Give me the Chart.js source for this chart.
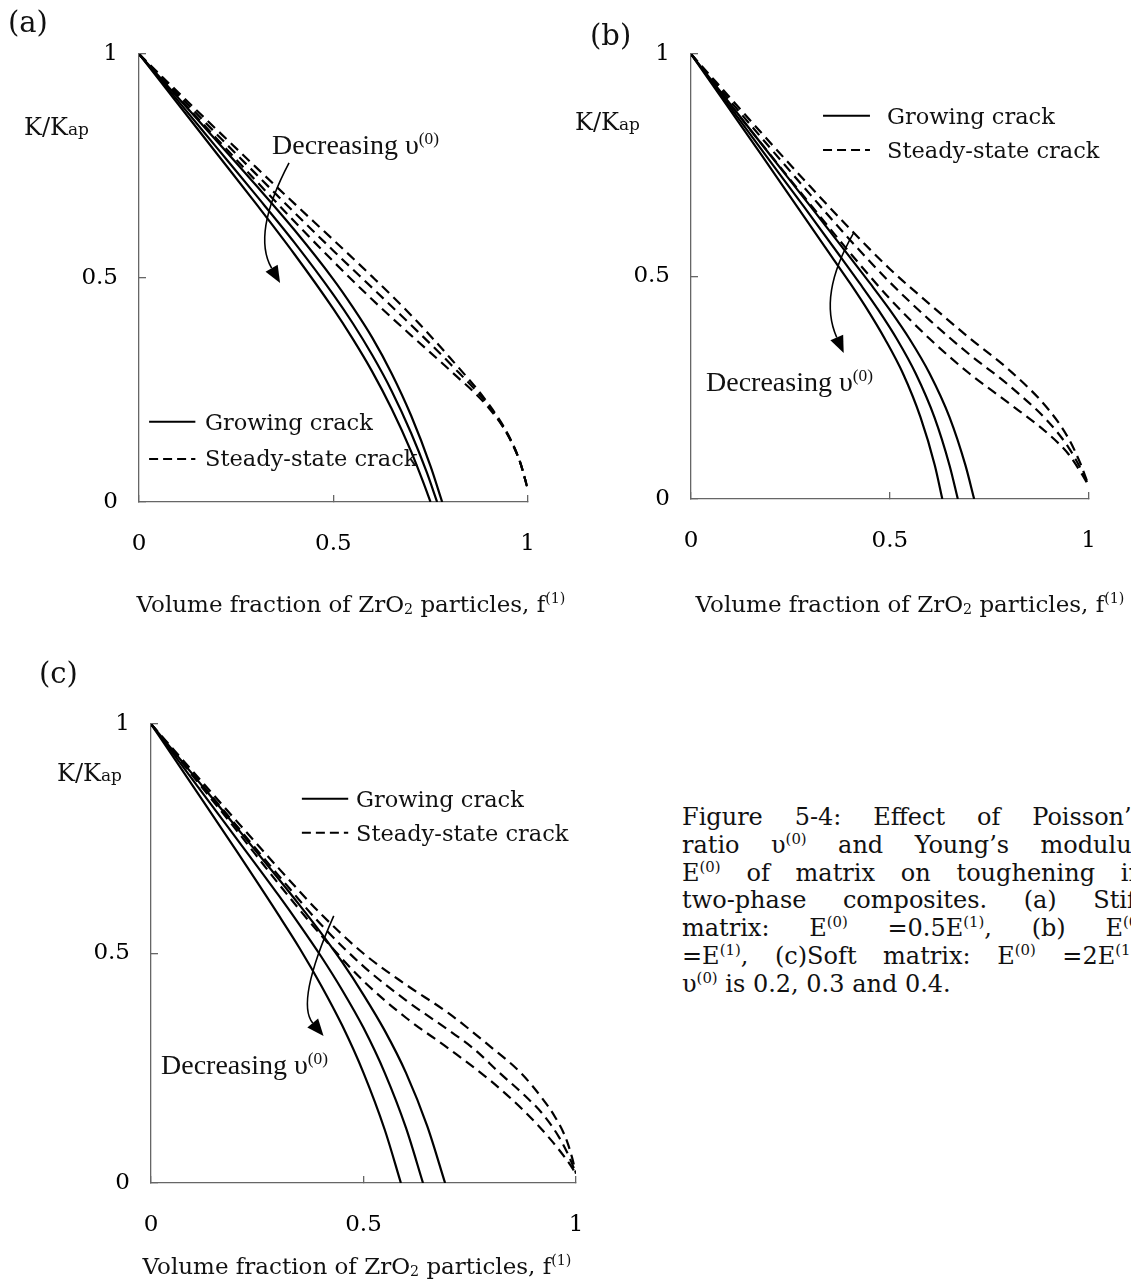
<!DOCTYPE html>
<html>
<head>
<meta charset="utf-8">
<script src="https://cdn.jsdelivr.net/npm/chart.js@4.4.1/dist/chart.umd.min.js"></script>
<style>
  body { margin: 0; width: 1131px; height: 1284px; overflow: hidden; background: #fff; position: relative;
         font-family: "DejaVu Serif", serif; color: #111; }
  canvas { position: absolute; }
  .txt { position: absolute; white-space: nowrap; line-height: 1; transform: translateY(-50%); }
  .tag { font-size: 29px; }
  .ylab { font-size: 24px; }
  .ylab small { font-size: 17px; }
  .xlab { font-size: 23px; transform: translate(-50%, -50%); }
  .key { font-size: 22.5px; }
  .note { font-family: "Liberation Serif", serif; font-size: 28px; }
  sup, sub { font-size: 0.62em; line-height: 0; }
  sup { vertical-align: 0.6em; }
  sub { vertical-align: -0.15em; }
  .caption { position: absolute; left: 682px; top: 804px; width: 462px; font-size: 24px; line-height: 27.8px; }
  .caption div { text-align: justify; text-align-last: justify; white-space: nowrap; }
  .caption div.last { text-align-last: left; }
</style>
</head>
<body>

<canvas id="chartA" width="570" height="640" style="left:0;top:0"></canvas>
<canvas id="chartB" width="561" height="640" style="left:570px;top:0"></canvas>
<canvas id="chartC" width="620" height="644" style="left:0;top:640px"></canvas>

<div class="txt tag" style="left:8px;top:22px">(a)</div>
<div class="txt tag" style="left:590px;top:35px">(b)</div>
<div class="txt tag" style="left:39px;top:673px">(c)</div>

<div class="txt ylab" style="left:24px;top:127px">K/K<small>ap</small></div>
<div class="txt ylab" style="left:575px;top:122px">K/K<small>ap</small></div>
<div class="txt ylab" style="left:57px;top:773px">K/K<small>ap</small></div>

<div class="txt xlab" style="left:351px;top:604px">Volume fraction of ZrO<sub>2</sub> particles, f<sup>(1)</sup></div>
<div class="txt xlab" style="left:910px;top:604px">Volume fraction of ZrO<sub>2</sub> particles, f<sup>(1)</sup></div>
<div class="txt xlab" style="left:357px;top:1266px">Volume fraction of ZrO<sub>2</sub> particles, f<sup>(1)</sup></div>

<div class="txt key" style="left:205px;top:422px">Growing crack</div>
<div class="txt key" style="left:205px;top:458px">Steady-state crack</div>
<div class="txt key" style="left:887px;top:116px">Growing crack</div>
<div class="txt key" style="left:887px;top:150px">Steady-state crack</div>
<div class="txt key" style="left:356px;top:799px">Growing crack</div>
<div class="txt key" style="left:356px;top:833px">Steady-state crack</div>

<div class="txt note" style="left:272px;top:145px">Decreasing υ<sup>(0)</sup></div>
<div class="txt note" style="left:706px;top:382px">Decreasing υ<sup>(0)</sup></div>
<div class="txt note" style="left:161px;top:1065px">Decreasing υ<sup>(0)</sup></div>

<div class="caption">
  <div>Figure 5-4: Effect of Poisson’s</div>
  <div>ratio υ<sup>(0)</sup> and Young’s modulus</div>
  <div>E<sup>(0)</sup> of matrix on toughening in</div>
  <div>two-phase composites. (a) Stiff</div>
  <div>matrix: E<sup>(0)</sup> =0.5E<sup>(1)</sup>, (b) E<sup>(0)</sup></div>
  <div>=E<sup>(1)</sup>, (c)Soft matrix: E<sup>(0)</sup> =2E<sup>(1)</sup>.</div>
  <div class="last">υ<sup>(0)</sup> is 0.2, 0.3 and 0.4.</div>
</div>

<script>
// axis ticks shared by every panel
const tickValues = [0, 0.5, 1];
const tickLabels = ['0', '0.5', '1'];

// [f, K/Kap] pairs per curve; growing = solid, steady = dashed
// (a) stiff matrix
const growA1 = [[0,1],[0.1,0.889],[0.2,0.778],[0.3,0.667],[0.4,0.553],[0.5,0.431],[0.55,0.364],[0.6,0.291],[0.65,0.208],[0.7,0.113],[0.73,0.047],[0.75,0]];
const growA2 = [[0,1],[0.1,0.896],[0.2,0.791],[0.3,0.686],[0.4,0.579],[0.5,0.463],[0.55,0.399],[0.6,0.328],[0.65,0.248],[0.7,0.154],[0.74,0.067],[0.767,0]];
const growA3 = [[0,1],[0.1,0.903],[0.2,0.806],[0.3,0.708],[0.4,0.607],[0.5,0.497],[0.55,0.435],[0.6,0.367],[0.65,0.287],[0.7,0.193],[0.75,0.08],[0.78,0]];
const steadyA1 = [[0,1],[0.1,0.905],[0.2,0.811],[0.3,0.718],[0.4,0.626],[0.5,0.537],[0.6,0.452],[0.7,0.372],[0.8,0.294],[0.9,0.21],[0.95,0.148],[0.98,0.09],[1,0.03]];
const steadyA2 = [[0,1],[0.1,0.91],[0.2,0.821],[0.3,0.733],[0.4,0.646],[0.5,0.561],[0.6,0.478],[0.7,0.395],[0.8,0.309],[0.9,0.214],[0.95,0.148],[0.98,0.09],[1,0.03]];
const steadyA3 = [[0,1],[0.1,0.915],[0.2,0.831],[0.3,0.748],[0.4,0.666],[0.5,0.585],[0.6,0.503],[0.7,0.417],[0.8,0.322],[0.9,0.218],[0.95,0.15],[0.98,0.09],[1,0.03]];

// (b) equal moduli
const growB1 = [[0,1],[0.089,0.886],[0.178,0.772],[0.266,0.658],[0.355,0.543],[0.4,0.485],[0.444,0.425],[0.488,0.359],[0.533,0.282],[0.577,0.184],[0.613,0.076],[0.632,0]];
const growB2 = [[0,1],[0.094,0.886],[0.188,0.772],[0.283,0.658],[0.377,0.543],[0.424,0.485],[0.471,0.425],[0.518,0.359],[0.565,0.282],[0.612,0.184],[0.65,0.076],[0.671,0]];
const growB3 = [[0,1],[0.1,0.886],[0.2,0.772],[0.3,0.658],[0.4,0.543],[0.45,0.485],[0.5,0.425],[0.55,0.359],[0.6,0.282],[0.65,0.184],[0.69,0.076],[0.712,0]];
const steadyB1 = [[0,1],[0.1,0.885],[0.2,0.773],[0.3,0.662],[0.4,0.553],[0.5,0.45],[0.6,0.36],[0.7,0.282],[0.8,0.215],[0.9,0.145],[0.95,0.1],[0.98,0.06],[1,0.03]];
const steadyB2 = [[0,1],[0.1,0.893],[0.2,0.788],[0.3,0.684],[0.4,0.582],[0.5,0.487],[0.6,0.402],[0.7,0.325],[0.8,0.255],[0.9,0.172],[0.95,0.115],[0.98,0.068],[1,0.03]];
const steadyB3 = [[0,1],[0.1,0.9],[0.2,0.8],[0.3,0.702],[0.4,0.607],[0.5,0.517],[0.6,0.438],[0.7,0.362],[0.8,0.29],[0.9,0.2],[0.95,0.135],[0.98,0.078],[1,0.03]];

// (c) soft matrix
const growC1 = [[0,1],[0.1,0.863],[0.2,0.725],[0.3,0.584],[0.35,0.511],[0.4,0.431],[0.45,0.343],[0.5,0.24],[0.55,0.116],[0.588,0]];
const growC2 = [[0,1],[0.1,0.876],[0.2,0.752],[0.3,0.627],[0.35,0.562],[0.4,0.494],[0.45,0.42],[0.5,0.338],[0.55,0.24],[0.6,0.12],[0.64,0]];
const growC3 = [[0,1],[0.1,0.888],[0.2,0.776],[0.3,0.663],[0.35,0.605],[0.4,0.545],[0.45,0.481],[0.5,0.41],[0.55,0.332],[0.6,0.24],[0.65,0.124],[0.692,0]];
const steadyC1 = [[0,1],[0.1,0.885],[0.2,0.77],[0.3,0.652],[0.4,0.54],[0.5,0.44],[0.6,0.36],[0.7,0.293],[0.8,0.222],[0.88,0.155],[0.94,0.095],[0.98,0.048],[1,0.02]];
const steadyC2 = [[0,1],[0.1,0.89],[0.2,0.78],[0.3,0.67],[0.4,0.563],[0.5,0.472],[0.6,0.398],[0.7,0.333],[0.76,0.292],[0.82,0.24],[0.88,0.19],[0.92,0.152],[0.96,0.1],[0.985,0.055],[1,0.02]];
const steadyC3 = [[0,1],[0.1,0.895],[0.2,0.79],[0.3,0.686],[0.4,0.586],[0.5,0.5],[0.6,0.432],[0.7,0.37],[0.8,0.296],[0.87,0.24],[0.92,0.185],[0.95,0.145],[0.975,0.1],[0.99,0.058],[1,0.02]];

// key samples and the "decreasing" arrow, in data units (f, K)
const keysA = { from: 0.026, to: 0.145, solidAt: 0.179, dashAt: 0.096 };
const keysB = { from: 0.332, to: 0.45, solidAt: 0.861, dashAt: 0.784 };
const keysC = { from: 0.355, to: 0.464, solidAt: 0.837, dashAt: 0.763 };
const arrowA = { start: [0.386, 0.757], ctrl: [0.29, 0.599], tip: [0.363, 0.489] };
const arrowB = { start: [0.409, 0.598], ctrl: [0.319, 0.458], tip: [0.384, 0.328] };
const arrowC = { start: [0.43, 0.582], ctrl: [0.34, 0.394], tip: [0.406, 0.32] };

const DASH = [10, 6];

const panelMarks = {
  id: 'panelMarks',
  afterDatasetsDraw(chart, args, opts) {
    const { ctx, scales: { x, y } } = chart;
    const px = p => [x.getPixelForValue(p[0]), y.getPixelForValue(p[1])];
    ctx.save();
    ctx.strokeStyle = '#000';
    ctx.fillStyle = '#000';

    // key line samples
    const k = opts.keys;
    [[k.solidAt, []], [k.dashAt, [9, 5]]].forEach(([at, dash]) => {
      const a = px([k.from, at]), b = px([k.to, at]);
      ctx.lineWidth = 2;
      ctx.setLineDash(dash);
      ctx.beginPath();
      ctx.moveTo(a[0], a[1]);
      ctx.lineTo(b[0], b[1]);
      ctx.stroke();
    });
    ctx.setLineDash([]);

    // curved arrow with a filled head
    const s = px(opts.arrow.start), c = px(opts.arrow.ctrl), t = px(opts.arrow.tip);
    let dx = t[0] - c[0], dy = t[1] - c[1];
    const len = Math.hypot(dx, dy);
    dx /= len; dy /= len;
    const head = 17, half = 7;
    const e = [t[0] - dx * head, t[1] - dy * head];
    ctx.lineWidth = 1.6;
    ctx.beginPath();
    ctx.moveTo(s[0], s[1]);
    ctx.quadraticCurveTo(c[0], c[1], e[0], e[1]);
    ctx.stroke();
    ctx.beginPath();
    ctx.moveTo(t[0], t[1]);
    ctx.lineTo(e[0] - dy * half, e[1] + dx * half);
    ctx.lineTo(e[0] + dy * half, e[1] - dx * half);
    ctx.closePath();
    ctx.fill();
    ctx.restore();
  }
};

function toPoints(pairs) {
  return pairs.map(p => ({ x: p[0], y: p[1] }));
}

function curve(pairs, dashed) {
  return {
    data: toPoints(pairs),
    borderColor: '#000',
    borderWidth: 2.2,
    borderDash: dashed ? DASH : [],
    pointRadius: 0,
    showLine: true,
    fill: false,
    cubicInterpolationMode: 'monotone'
  };
}

function axis(fitKey, fitVal, pad) {
  return {
    type: 'linear',
    min: 0,
    max: 1,
    afterFit: s => { s[fitKey] = fitVal; },
    afterBuildTicks: s => { s.ticks = tickValues.map(v => ({ value: v })); },
    ticks: {
      font: { family: 'DejaVu Serif', size: 23 },
      color: '#000',
      padding: pad,
      maxRotation: 0,
      callback: (v, i) => tickLabels[i]
    },
    grid: { drawOnChartArea: false, tickLength: -7, color: '#666', lineWidth: 1.3 },
    border: { color: '#666', width: 1.3 }
  };
}

function makePanel(id, grow, steady, box, keys, arrow) {
  const datasets = grow.map(g => curve(g, false)).concat(steady.map(s => curve(s, true)));
  return new Chart(document.getElementById(id), {
    type: 'scatter',
    data: { datasets },
    options: {
      responsive: false,
      animation: false,
      layout: { padding: { left: 0, top: box.top, right: box.right, bottom: 0 } },
      scales: {
        x: axis('height', box.xh, 35),
        y: axis('width', box.yw, 28)
      },
      plugins: {
        legend: { display: false },
        tooltip: { enabled: false },
        panelMarks: { keys, arrow }
      }
    },
    plugins: [panelMarks]
  });
}

makePanel('chartA', [growA1, growA2, growA3], [steadyA1, steadyA2, steadyA3],
  { top: 54, right: 10, yw: 139, xh: 138 }, keysA, arrowA);
makePanel('chartB', [growB1, growB2, growB3], [steadyB1, steadyB2, steadyB3],
  { top: 54, right: 18, yw: 121, xh: 141 }, keysB, arrowB);
makePanel('chartC', [growC1, growC2, growC3], [steadyC1, steadyC2, steadyC3],
  { top: 84, right: 44, yw: 151, xh: 101 }, keysC, arrowC);
</script>
</body>
</html>
